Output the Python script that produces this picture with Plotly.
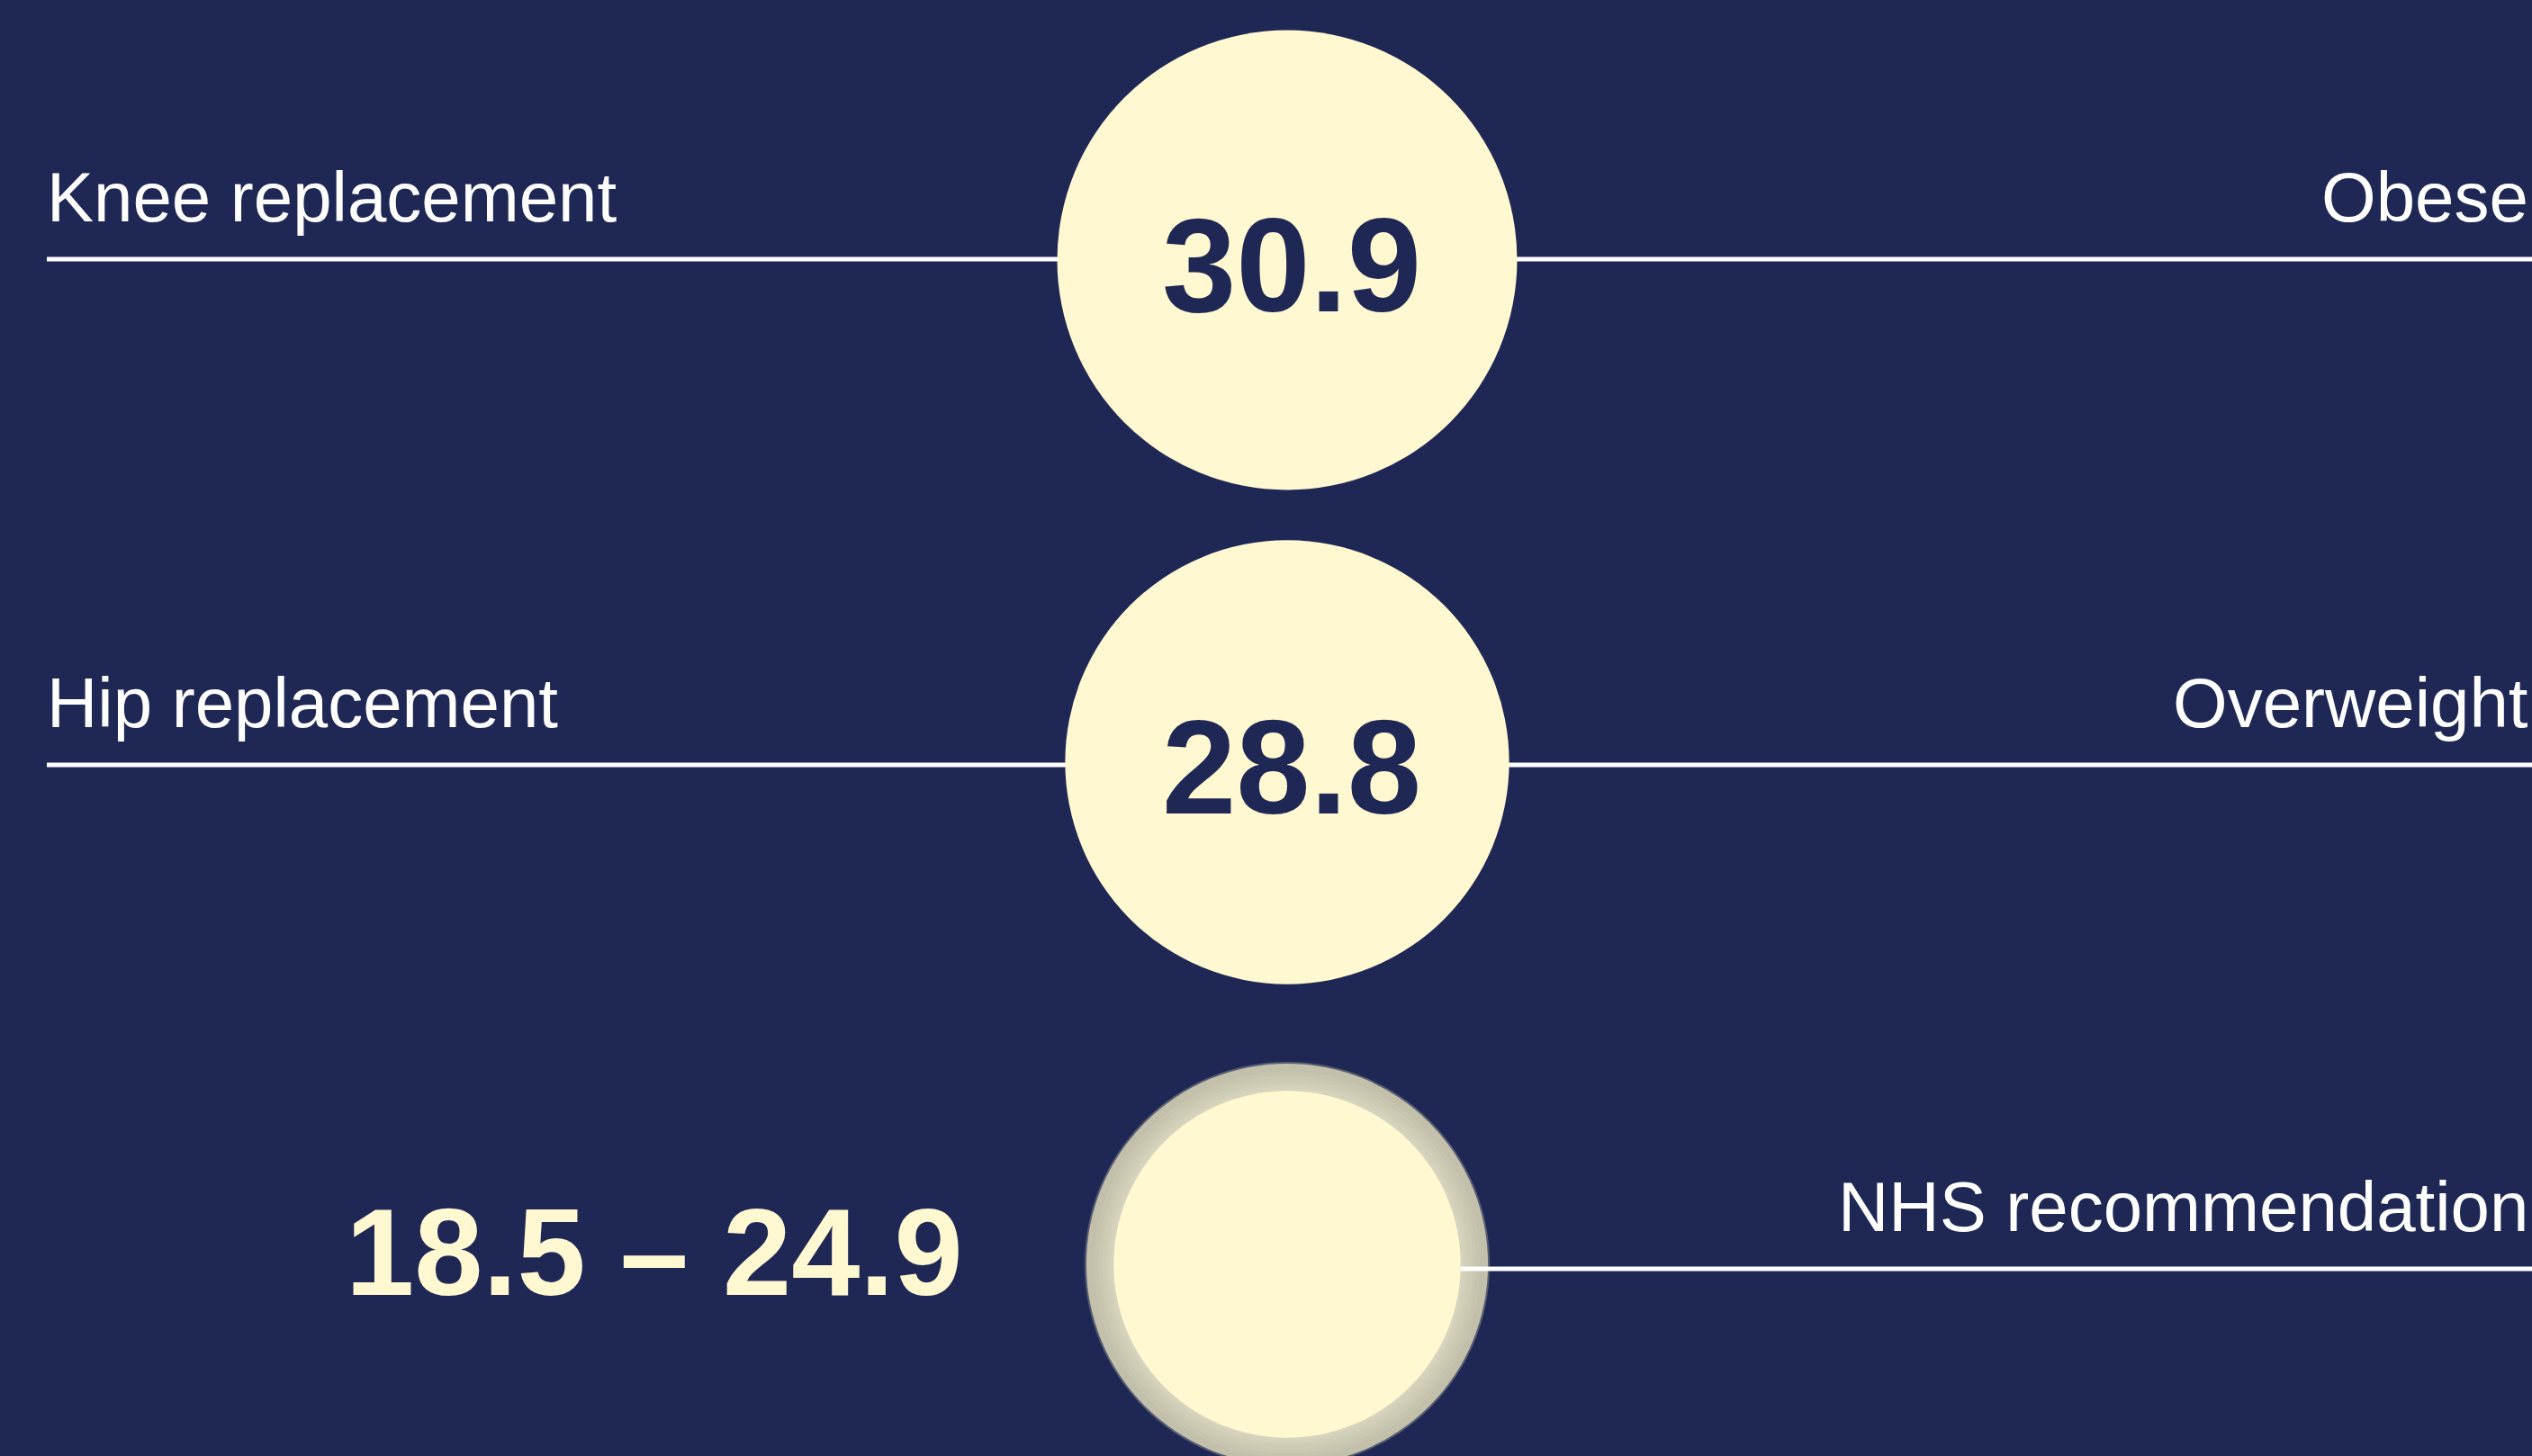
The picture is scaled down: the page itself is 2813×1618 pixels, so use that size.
import numpy as np
import plotly.graph_objects as go

# ---------------- data ----------------
procedures = ["Knee replacement", "Hip replacement"]
procedure_bmi = [30.9, 28.8]
bmi_categories = ["Obese", "Overweight", "NHS recommendation"]
nhs_range = [18.5, 24.9]
nhs_label = "18.5 \u2013 24.9"

# ---------------- layout / style ----------------
W, H = 2813, 1618
BG = "#1F2855"
CREAM = "#FFF8D1"
RING = "#C2C0AA"
WHITE = "#FFFFFF"
NAVY = "#1F2855"

SCALE = 45.96          # radius px per sqrt(BMI)
RANGE_SCALE = 0.975    # NHS circles slightly reduced
CX_PX = 1430           # circle column (px from left)
ROW0_PX = 289          # first row centre (px from top)
ROW_STEP = 558         # px between rows
LINE_OFFSET_PX = [-1, 3, 5]   # rules sit slightly off the circle centres

LABEL_FONT = "Liberation Sans, Arial, sans-serif"
NUM_FONT = "Liberation Sans, Arial, sans-serif"


def radius(v, s=1.0):
    return SCALE * np.sqrt(v) * s


rows = list(range(len(bmi_categories)))
proc_rows = rows[:len(procedures)]
nhs_row = rows[-1]
line_rows = [r + off / ROW_STEP for r, off in zip(rows, LINE_OFFSET_PX)]

fig = go.Figure()

# procedure circles
fig.add_trace(go.Scatter(
    x=[0] * len(procedures), y=proc_rows,
    mode="markers",
    marker=dict(size=[2 * radius(v) for v in procedure_bmi], color=CREAM,
                line=dict(width=0), opacity=1),
    hoverinfo="skip", showlegend=False,
))

# NHS range: outer ring (upper bound) with soft glow, inner circle (lower bound)
r_out = radius(nhs_range[1], RANGE_SCALE)
r_in = radius(nhs_range[0], RANGE_SCALE)
fig.add_trace(go.Scatter(
    x=[0], y=[nhs_row], mode="markers",
    marker=dict(size=2 * r_out + 3, color="rgba(194,192,170,0.35)", line=dict(width=0)),
    hoverinfo="skip", showlegend=False,
))
fig.add_trace(go.Scatter(
    x=[0], y=[nhs_row], mode="markers",
    marker=dict(size=2 * r_out - 1, color=RING, line=dict(width=0)),
    hoverinfo="skip", showlegend=False,
))
glow_steps = [22, 17, 13, 9, 6, 3]
for d in glow_steps:
    fig.add_trace(go.Scatter(
        x=[0], y=[nhs_row], mode="markers",
        marker=dict(size=2 * (r_in + d), color="rgba(255,250,220,0.07)", line=dict(width=0)),
        hoverinfo="skip", showlegend=False,
    ))
fig.add_trace(go.Scatter(
    x=[0], y=[nhs_row], mode="markers",
    marker=dict(size=2 * r_in, color=CREAM, line=dict(width=0)),
    hoverinfo="skip", showlegend=False,
))

# horizontal rules
shapes = []
for r in line_rows[:len(procedures)]:
    shapes.append(dict(type="line", xref="paper", yref="y", x0=52 / W, x1=1, y0=r, y1=r,
                       line=dict(color=WHITE, width=5), layer="below"))
shapes.append(dict(type="line", xref="x", yref="y", x0=r_in, x1=W - CX_PX,
                   y0=line_rows[-1], y1=line_rows[-1], line=dict(color=WHITE, width=5),
                   layer="above"))

annotations = []
for name, r in zip(procedures, line_rows):
    annotations.append(dict(text=name, xref="paper", yref="y", x=50 / W, y=r,
                            xanchor="left", yanchor="bottom", yshift=23, showarrow=False,
                            font=dict(family=LABEL_FONT, size=78, color=WHITE)))
for name, r in zip(bmi_categories, line_rows):
    annotations.append(dict(text=name, xref="paper", yref="y", x=2811 / W, y=r,
                            xanchor="right", yanchor="bottom", yshift=23, showarrow=False,
                            font=dict(family=LABEL_FONT, size=78, color=WHITE)))
for v, r in zip(procedure_bmi, proc_rows):
    annotations.append(dict(text=f"{v:.1f}", xref="x", yref="y", x=0, y=r,
                            xanchor="center", yanchor="middle", xshift=5, yshift=-5,
                            showarrow=False,
                            font=dict(family=NUM_FONT, size=148, color=NAVY, weight="bold")))
annotations.append(dict(text=nhs_label, xref="x", yref="y", x=-358, y=nhs_row,
                        xanchor="right", yanchor="middle", yshift=14, showarrow=False,
                        font=dict(family=NUM_FONT, size=137, color=CREAM, weight="bold")))

fig.update_layout(
    width=W, height=H,
    margin=dict(l=0, r=0, t=0, b=0),
    paper_bgcolor=BG, plot_bgcolor=BG,
    xaxis=dict(range=[-CX_PX, W - CX_PX], visible=False, fixedrange=True),
    yaxis=dict(range=[(H - ROW0_PX) / ROW_STEP, -ROW0_PX / ROW_STEP], visible=False,
               fixedrange=True),
    shapes=shapes, annotations=annotations,
    showlegend=False,
)

fig.write_html("out.html", config={"displayModeBar": False})
